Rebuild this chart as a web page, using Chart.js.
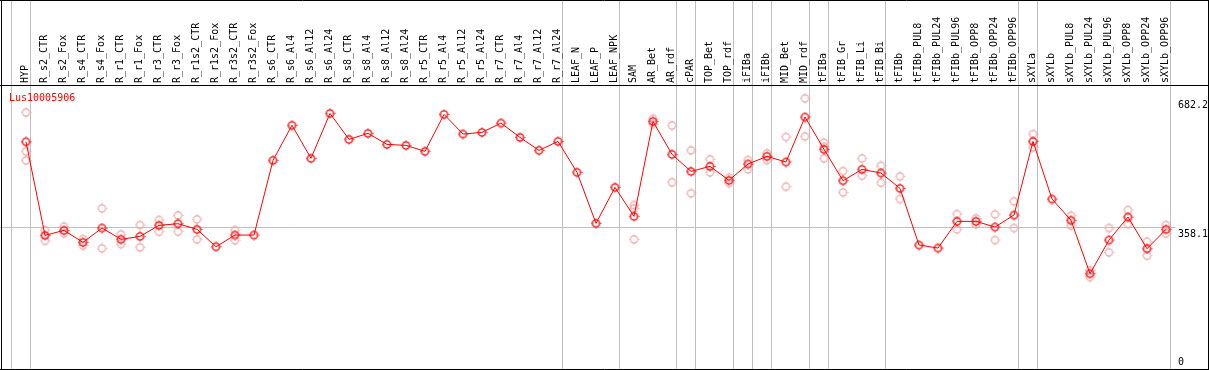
<!DOCTYPE html>
<html>
<head>
<meta charset="utf-8">
<script src="https://cdn.jsdelivr.net/npm/chart.js@4/dist/chart.umd.min.js"></script>
<style>
  body { margin: 0; background: #fff; }
  canvas { display: block; }
</style>
</head>
<body>
<canvas id="chart" width="1209" height="370"></canvas>
<script>
// campioni (asse x)
const samples = [
  "HYP", "R_s2_CTR", "R_s2_Fox", "R_s4_CTR", "R_s4_Fox", "R_r1_CTR", "R_r1_Fox",
  "R_r3_CTR", "R_r3_Fox", "R_r1s2_CTR", "R_r1s2_Fox", "R_r3s2_CTR", "R_r3s2_Fox",
  "R_s6_CTR", "R_s6_Al4", "R_s6_Al12", "R_s6_Al24", "R_s8_CTR", "R_s8_Al4",
  "R_s8_Al12", "R_s8_Al24", "R_r5_CTR", "R_r5_Al4", "R_r5_Al12", "R_r5_Al24",
  "R_r7_CTR", "R_r7_Al4", "R_r7_Al12", "R_r7_Al24", "LEAF_N", "LEAF_P", "LEAF_NPK",
  "SAM", "AR_Bet", "AR_rdf", "cPAR", "TOP_Bet", "TOP_rdf", "iFIBa", "iFIBb",
  "MID_Bet", "MID_rdf", "tFIBa", "tFIB_Gr", "tFIB_Li", "tFIB_Bi", "tFIBb",
  "tFIBb_PUL8", "tFIBb_PUL24", "tFIBb_PUL96", "tFIBb_OPP8", "tFIBb_OPP24",
  "tFIBb_OPP96", "sXYLa", "sXYLb", "sXYLb_PUL8", "sXYLb_PUL24", "sXYLb_PUL96",
  "sXYLb_OPP8", "sXYLb_OPP24", "sXYLb_OPP96"
];

// media per campione
const means = [
  572.6, 337.8, 350.3, 320.2, 356.2, 327.8, 335.3, 362.9, 367.0, 352.9, 309.3, 338.6, 338.6,
  526.0, 614.0, 531.0, 643.8, 578.6, 593.6, 566.0, 563.5, 548.5, 641.3, 592.0, 596.1,
  619.5, 583.6, 551.0, 573.6, 495.8, 367.9, 458.2,
  385.5, 623.7, 541.0, 498.3, 510.9, 475.8, 516.7, 536.0, 521.7, 634.6, 553.6, 474.9,
  503.4, 494.1, 455.7, 313.5, 306.0, 372.9, 372.9, 358.7, 388.8, 573.6, 428.9, 375.5,
  241.6, 326.1, 383.7, 304.3, 352.9
];

// repliche (null = non visibile)
const rep1 = [
  646.0, 351.0, 359.5, 328.6, 405.5, 340.3, 363.7, 376.2, 388.0, 378.0, null, 351.0, null,
  null, null, null, null, null, null, null, null, null, null, null, null,
  null, null, null, null, null, null, null,
  413.8, 630.3, 613.7, 551.0, 528.5, 482.4, 526.7, 543.5, 584.4, 681.5, 570.2, 499.1,
  531.0, 512.4, 485.8, null, null, 391.3, 380.4, 390.5, 423.1, 592.0, null, 387.0,
  250.0, 356.2, 401.3, 321.8, 363.7
];
const rep2 = [
  526.0, 324.0, 342.8, 311.9, 305.2, 316.0, 307.7, 346.9, 347.0, 327.8, null, 325.3, null,
  null, null, null, null, null, null, null, null, null, null, null, null,
  null, null, null, null, null, null, null,
  327.8, 617.0, 470.8, 443.2, 495.8, 469.0, 503.4, 526.7, 459.8, 586.1, 531.0, 445.7,
  487.4, 469.8, 428.9, null, null, 352.9, 365.4, 326.1, 356.2, 558.6, null, 362.0,
  233.3, 295.2, 366.2, 286.7, 342.8
];
const rep3 = [
  548.5, null, null, null, null, null, null, null, null, null, null, null, null,
  null, null, null, null, null, null, null, null, null, null, null, null,
  null, null, null, null, null, null, null,
  405.5, null, null, null, null, null, null, null, null, null, 560.0, null,
  null, null, null, null, null, null, null, null, null, null, null, null,
  null, null, null, null, null
];

const geneName = "Lus10005906";
const yTicks = [682.2, 358.1, 0];
const meanLine = 358.1;
// indici dopo cui c'e' un separatore
const groupEnds = [-1, 0, 28, 31, 34, 35, 37, 38, 39, 41, 42, 45, 52, 53, 60];

function toPoints(arr) {
  return arr.map(function (v, i) {
    return { x: i, y: v };
  });
}

// marker tondo con piccoli raggi
function makeMarker(color, lw) {
  const c = document.createElement("canvas");
  c.width = 11;
  c.height = 11;
  const g = c.getContext("2d");
  g.strokeStyle = color;
  g.lineWidth = lw;
  g.beginPath();
  g.arc(5.5, 5.5, 3.6, 0, Math.PI * 2);
  g.stroke();
  g.fillStyle = color;
  g.fillRect(5, 0.5, 1, 1);
  g.fillRect(5, 9.5, 1, 1);
  g.fillRect(0.5, 5, 1, 1);
  g.fillRect(9.5, 5, 1, 1);
  return c;
}

const mainMarker = makeMarker("#ff0000", 1.4);
const repMarker = makeMarker("#eea0a0", 1.1);

const decor = {
  id: "decor",
  beforeDatasetsDraw(chart) {
    const ctx = chart.ctx;
    const x = chart.scales.x;
    const y = chart.scales.y;
    ctx.save();
    ctx.strokeStyle = "#c0c0c0";
    ctx.lineWidth = 1;
    groupEnds.forEach(function (g) {
      const px = Math.round(x.getPixelForValue(g + 0.21)) + 0.5;
      ctx.beginPath();
      ctx.moveTo(px, 0);
      ctx.lineTo(px, chart.height);
      ctx.stroke();
    });
    const my = Math.round(y.getPixelForValue(meanLine)) + 0.5;
    ctx.beginPath();
    ctx.moveTo(0, my);
    ctx.lineTo(x.getPixelForValue(60.5), my);
    ctx.stroke();

    // etichette campioni
    ctx.fillStyle = "#000";
    ctx.font = "10px 'DejaVu Sans Mono'";
    ctx.textAlign = "left";
    ctx.textBaseline = "alphabetic";
    samples.forEach(function (s, i) {
      ctx.save();
      ctx.translate(Math.round(x.getPixelForValue(i)) + 2, 83);
      ctx.rotate(-Math.PI / 2);
      ctx.fillText(s, 0, 0);
      ctx.restore();
    });

    // tick asse y
    ctx.textBaseline = "middle";
    yTicks.forEach(function (t) {
      let ty = y.getPixelForValue(t) + 7;
      if (ty > chart.height - 8) ty = chart.height - 8;
      ctx.fillText(String(t), 1178, ty);
    });

    ctx.fillStyle = "#ff0000";
    ctx.textBaseline = "alphabetic";
    ctx.fillText(geneName, 9, 101);
    ctx.restore();
  },
  afterDraw(chart) {
    const ctx = chart.ctx;
    const w = chart.width;
    const h = chart.height;
    ctx.save();
    ctx.strokeStyle = "#000";
    ctx.lineWidth = 1;
    ctx.beginPath();
    ctx.moveTo(0, 0.5); ctx.lineTo(w, 0.5);
    ctx.moveTo(0, 85.5); ctx.lineTo(w, 85.5);
    ctx.moveTo(0, h - 0.5); ctx.lineTo(w, h - 0.5);
    ctx.moveTo(1.5, 0); ctx.lineTo(1.5, h);
    ctx.moveTo(w - 0.5, 0); ctx.lineTo(w - 0.5, h);
    ctx.stroke();
    ctx.restore();
  }
};

function repDataset(arr) {
  return {
    data: toPoints(arr),
    showLine: false,
    pointStyle: repMarker,
    pointRadius: 5,
  };
}

const ctx = document.getElementById("chart").getContext("2d");

new Chart(ctx, {
  type: "line",
  data: {
    datasets: [
      {
        label: geneName,
        data: toPoints(means),
        borderColor: "#ff0000",
        borderWidth: 1,
        pointStyle: mainMarker,
        pointRadius: 5,
        tension: 0,
      },
      repDataset(rep1),
      repDataset(rep2),
      repDataset(rep3),
    ],
  },
  options: {
    responsive: false,
    animation: false,
    devicePixelRatio: 1,
    events: [],
    layout: { autoPadding: false, padding: { top: 85, left: 1, right: 1, bottom: 0 } },
    plugins: { legend: { display: false }, tooltip: { enabled: false } },
    scales: {
      x: { type: "linear", min: -25 / 19, max: 60 + 42 / 19, display: false },
      y: { type: "linear", min: 0, max: 715, display: false },
    },
  },
  plugins: [decor],
});
</script>
</body>
</html>
